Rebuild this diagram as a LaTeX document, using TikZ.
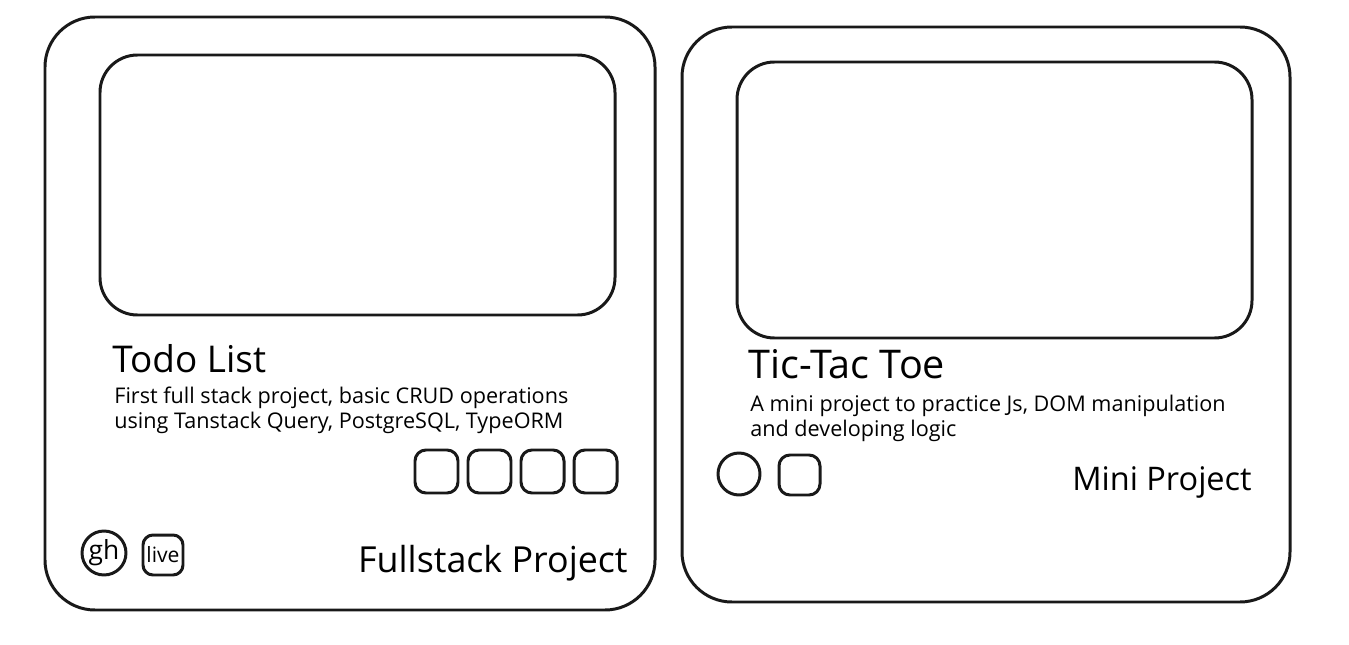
\documentclass[tikz,border=0pt]{standalone}
\usepackage{fontspec}
\setmainfont{Open Sans}
\tikzset{
  sketch/.style={draw=black!90, line width=1.7pt, line join=round},
  title/.style={inner sep=0pt, anchor=base west, font=\fontsize{21}{24}\selectfont},
  blurb/.style={inner sep=0pt, anchor=north west, align=left, font=\fontsize{12.3}{14.2}\selectfont},
  tag/.style={inner sep=0pt, anchor=base east, font=\fontsize{20.4}{22}\selectfont},
}
\begin{document}
\begin{tikzpicture}[x=0.02cm, y=-0.02cm]
  \useasboundingbox (0,0) rectangle (1349,645);
  % Karte links: Fullstack
  \draw[sketch, rounded corners=1cm] (45,17) rectangle (655,610);
  \draw[sketch, rounded corners=0.75cm] (100,55) rectangle (615,315);
  \node[title] (todo) at (112,372) {Todo List};
  \node[blurb] (todotext) at (114,387) {First full stack project, basic CRUD operations\\using Tanstack Query, PostgreSQL, TypeORM};
  \foreach \x in {415,468,521,574}
    \draw[sketch, rounded corners=0.22cm] (\x,450) rectangle ++(43,43);
  \node[sketch, circle, minimum size=0.88cm, inner sep=0pt, font=\fontsize{15}{15}\selectfont] (gh) at (104,553) {gh};
  \node[sketch, rounded corners=0.2cm, minimum size=0.8cm, inner sep=0pt, font=\fontsize{12}{12}\selectfont] (live) at (163,555) {live};
  \node[tag] (fullstack) at (628,572) {Fullstack Project};
  % Karte rechts: Mini
  \draw[sketch, rounded corners=1cm] (682,27) rectangle (1290,602);
  \draw[sketch, rounded corners=0.75cm] (737,62) rectangle (1252,338);
  \node[title, font=\fontsize{22.5}{24}\selectfont] (tictac) at (748,378) {Tic-Tac Toe};
  \node[blurb] (tictactext) at (750,395) {A mini project to practice Js, DOM manipulation\\and developing logic};
  \draw[sketch] (739,474) circle (21);
  \draw[sketch, rounded corners=0.22cm] (779,455) rectangle (820,495);
  \node[tag, font=\fontsize{18.5}{20}\selectfont] (mini) at (1252,490) {Mini Project};
\end{tikzpicture}
\end{document}
